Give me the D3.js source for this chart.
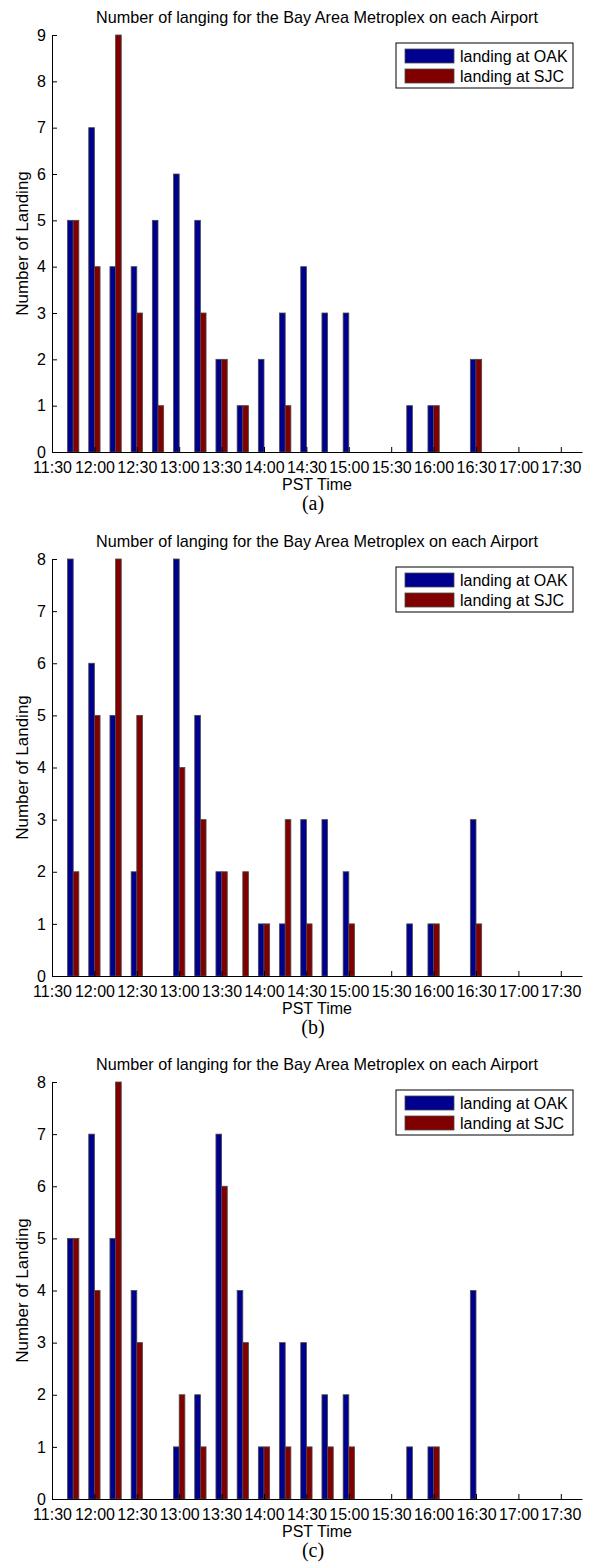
<!DOCTYPE html>
<html>
<head>
<meta charset="utf-8">
<script src="https://cdn.jsdelivr.net/npm/d3@7"></script>
<style>
  body { margin: 0; background: #fff; }
  text { font-family: "Liberation Sans", Arial, sans-serif; fill: #000; }
</style>
</head>
<body>
<div id="chart"></div>
<script>
// 15-minute bins, first bin at 11:45
const binTimes = ["11:45", "12:00", "12:15", "12:30", "12:45", "13:00", "13:15", "13:30", "13:45", "14:00",
                  "14:15", "14:30", "14:45", "15:00", "15:15", "15:30", "15:45", "16:00", "16:15", "16:30"];

const oakA = [5, 7, 4, 4, 5, 6, 5, 2, 1, 2, 3, 4, 3, 3, 0, 0, 1, 1, 0, 2];
const sjcA = [5, 4, 9, 3, 1, 0, 3, 2, 1, 0, 1, 0, 0, 0, 0, 0, 0, 1, 0, 2];

const oakB = [8, 6, 5, 2, 0, 8, 5, 2, 0, 1, 1, 3, 3, 2, 0, 0, 1, 1, 0, 3];
const sjcB = [2, 5, 8, 5, 0, 4, 3, 2, 2, 1, 3, 1, 0, 1, 0, 0, 0, 1, 0, 1];

const oakC = [5, 7, 5, 4, 0, 1, 2, 7, 4, 1, 3, 3, 2, 2, 0, 0, 1, 1, 0, 4];
const sjcC = [5, 4, 8, 3, 0, 2, 1, 6, 3, 1, 1, 1, 1, 1, 0, 0, 0, 1, 0, 0];

const xTickLabels = ["11:30", "12:00", "12:30", "13:00", "13:30", "14:00", "14:30",
                     "15:00", "15:30", "16:00", "16:30", "17:00", "17:30"];
const yMaxes = [9, 8, 8];
const captions = ["(a)", "(b)", "(c)"];
const seriesNames = ["landing at OAK", "landing at SJC"];
const colors = ["#00008f", "#800000"];
const titleText = "Number of langing for the Bay Area Metroplex on each Airport";

const panels = [[oakA, sjcA], [oakB, sjcB], [oakC, sjcC]];

const toMin = s => { const [h, m] = s.split(":").map(Number); return h * 60 + m; };

const W = 592, H = 1563;
const left = 52, right = 582, plotH = 417;
const panelTop = [35, 559, 1082];

const svg = d3.select("#chart").append("svg")
  .attr("width", W).attr("height", H);

const x = d3.scaleLinear()
  .domain([toMin("11:30"), toMin("17:45")])
  .range([left, right]);

const barMin = 4; // bar width in minutes
const barW = x(toMin("11:30") + barMin) - x(toMin("11:30"));

panels.forEach((series, p) => {
  const top = panelTop[p];
  const y = d3.scaleLinear().domain([0, yMaxes[p]]).range([top + plotH, top]);
  const g = svg.append("g");

  // title
  g.append("text")
    .attr("x", (left + right) / 2).attr("y", top - 12)
    .attr("text-anchor", "middle").attr("font-size", 16.2)
    .text(titleText);

  // bars, OAK left of bin time, SJC right
  series.forEach((vals, s) => {
    g.selectAll(null)
      .data(vals.map((v, i) => ({ t: toMin(binTimes[i]), v })))
      .enter().append("rect")
      .attr("x", d => s === 0 ? x(d.t - barMin) : x(d.t))
      .attr("width", barW)
      .attr("y", d => y(d.v))
      .attr("height", d => y(0) - y(d.v))
      .attr("fill", colors[s])
      .attr("stroke", "#4a4a4a")
      .attr("stroke-width", 0.8);
  });

  // x axis
  const xAxis = d3.axisBottom(x)
    .tickValues(xTickLabels.map(toMin))
    .tickFormat((d, i) => xTickLabels[i])
    .tickSizeInner(-5).tickSizeOuter(0).tickPadding(10);
  const xg = g.append("g")
    .attr("transform", `translate(0,${top + plotH})`)
    .call(xAxis);
  xg.select(".domain").attr("stroke", "#000");
  xg.selectAll(".tick line").attr("stroke", "#000");
  xg.selectAll(".tick text").attr("font-size", 16)
    .attr("font-family", "Liberation Sans, Arial, sans-serif").attr("fill", "#000");

  // y axis
  const yAxis = d3.axisLeft(y)
    .ticks(yMaxes[p]).tickFormat(d3.format("d"))
    .tickSizeInner(-5).tickSizeOuter(0).tickPadding(6);
  const yg = g.append("g")
    .attr("transform", `translate(${left},0)`)
    .call(yAxis);
  yg.select(".domain").attr("stroke", "#000");
  yg.selectAll(".tick line").attr("stroke", "#000");
  yg.selectAll(".tick text").attr("font-size", 16)
    .attr("font-family", "Liberation Sans, Arial, sans-serif").attr("fill", "#000");

  // axis labels
  g.append("text")
    .attr("transform", `translate(28,${top + plotH / 2}) rotate(-90)`)
    .attr("text-anchor", "middle").attr("font-size", 17)
    .text("Number of Landing");
  g.append("text")
    .attr("x", (left + right) / 2).attr("y", top + plotH + 38)
    .attr("text-anchor", "middle").attr("font-size", 16)
    .text("PST Time");
  g.append("text")
    .attr("x", (left + right) / 2 - 4).attr("y", top + plotH + 58)
    .attr("text-anchor", "middle").attr("font-size", 20)
    .style("font-family", "'Liberation Serif', 'Times New Roman', serif")
    .text(captions[p]);

  // legend
  const lg = g.append("g").attr("transform", `translate(396,${top + 8})`);
  lg.append("rect").attr("width", 177).attr("height", 45)
    .attr("fill", "#fff").attr("stroke", "#000").attr("stroke-width", 1);
  seriesNames.forEach((name, i) => {
    lg.append("rect")
      .attr("x", 9).attr("y", 6 + i * 20).attr("width", 49).attr("height", 14)
      .attr("fill", colors[i]).attr("stroke", "#4a4a4a").attr("stroke-width", 0.8);
    lg.append("text")
      .attr("x", 64).attr("y", 19 + i * 20).attr("font-size", 16)
      .text(name);
  });
});
</script>
</body>
</html>
